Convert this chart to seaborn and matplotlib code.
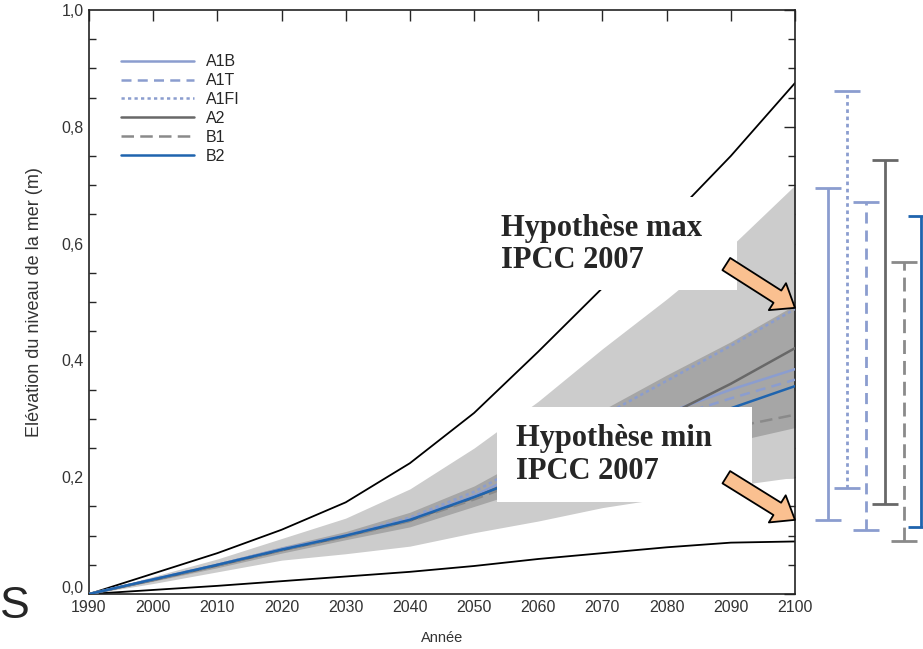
import numpy as np
import pandas as pd
import matplotlib
matplotlib.use("Agg")
import matplotlib.pyplot as plt
import seaborn as sns
from matplotlib.patches import Rectangle
from matplotlib.ticker import MultipleLocator, FuncFormatter
from matplotlib.transforms import ScaledTranslation

# --- data (sea level rise, m) ---
years = [1990, 2000, 2010, 2020, 2030, 2040, 2050, 2060, 2070, 2080, 2090, 2100]

a1b = [0.0, 0.025, 0.05, 0.077, 0.100, 0.128, 0.168, 0.222, 0.268, 0.310, 0.350, 0.385]
a1t = [0.0, 0.025, 0.05, 0.077, 0.100, 0.128, 0.168, 0.218, 0.260, 0.300, 0.335, 0.367]
a1fi = [0.0, 0.025, 0.05, 0.077, 0.101, 0.131, 0.175, 0.235, 0.305, 0.365, 0.425, 0.488]
a2 = [0.0, 0.024, 0.049, 0.075, 0.099, 0.126, 0.165, 0.212, 0.262, 0.305, 0.360, 0.421]
b1 = [0.0, 0.024, 0.049, 0.075, 0.098, 0.125, 0.162, 0.203, 0.235, 0.260, 0.285, 0.307]
b2 = [0.0, 0.025, 0.05, 0.076, 0.100, 0.127, 0.166, 0.208, 0.250, 0.285, 0.318, 0.356]

upper_env = [0.0, 0.035, 0.070, 0.110, 0.157, 0.224, 0.310, 0.415, 0.524, 0.636, 0.750, 0.875]
lower_env = [0.0, 0.007, 0.014, 0.022, 0.030, 0.038, 0.048, 0.060, 0.070, 0.080, 0.088, 0.090]

light_lo = [0.0, 0.018, 0.038, 0.058, 0.069, 0.082, 0.105, 0.125, 0.148, 0.165, 0.185, 0.200]
light_hi = [0.0, 0.030, 0.060, 0.095, 0.130, 0.180, 0.250, 0.330, 0.420, 0.505, 0.595, 0.700]
dark_lo = [0.0, 0.022, 0.045, 0.070, 0.093, 0.115, 0.150, 0.185, 0.210, 0.235, 0.260, 0.285]
dark_hi = [0.0, 0.027, 0.053, 0.081, 0.107, 0.140, 0.185, 0.245, 0.315, 0.375, 0.432, 0.495]

# ranges in 2100 shown as bars to the right of the plot
bar_names = ["A1B", "A1FI", "A1T", "A2", "B1", "B2"]
bar_low = [0.127, 0.182, 0.110, 0.154, 0.091, 0.115]
bar_high = [0.695, 0.861, 0.671, 0.744, 0.568, 0.648]

scenarios = ["A1B", "A1T", "A1FI", "A2", "B1", "B2"]
series = {"A1B": a1b, "A1T": a1t, "A1FI": a1fi, "A2": a2, "B1": b1, "B2": b2}

colors = {"A1B": "#8b9dcf", "A1T": "#8b9dcf", "A1FI": "#8b9dcf",
          "A2": "#686868", "B1": "#8a8a8a", "B2": "#1f64ae"}
dashes = {"A1B": "", "A1T": (4, 2.5), "A1FI": (1.3, 1.3),
          "A2": "", "B1": (5, 2.5), "B2": ""}

df = pd.DataFrame({
    "Année": years * len(scenarios),
    "niveau": sum([series[s] for s in scenarios], []),
    "scenario": np.repeat(scenarios, len(years)),
})

sns.set_style("white")
plt.rcParams["font.family"] = ["Liberation Sans", "DejaVu Sans"]

fig = plt.figure(figsize=(9.23, 6.49), dpi=100)
ax = fig.add_axes([0.0964, 0.0847, 0.7649, 0.8999])

# shaded envelopes
ax.fill_between(years, light_lo, light_hi, color="#cccccc", lw=0, zorder=1)
ax.fill_between(years, dark_lo, dark_hi, color="#a6a6a6", lw=0, zorder=1.5)

# outer black envelope lines
sns.lineplot(x=years, y=upper_env, color="black", lw=1.3, ax=ax, zorder=2)
sns.lineplot(x=years, y=lower_env, color="black", lw=1.3, ax=ax, zorder=2)

sns.lineplot(data=df, x="Année", y="niveau", hue="scenario", style="scenario",
             hue_order=scenarios, style_order=scenarios,
             palette=colors, dashes=dashes, lw=1.8, ax=ax, zorder=3)

old = ax.get_legend()
handles = old.legend_handles
labels = [t.get_text() for t in old.get_texts()]
for h in handles:
    h.set_linewidth(1.8)
ax.legend(handles, labels, loc="upper left", bbox_to_anchor=(0.045, 0.924),
          frameon=False, fontsize=11.5, handlelength=4.6, handletextpad=0.75,
          labelspacing=0.24, borderpad=0, borderaxespad=0)

# range bars outside the axes
bar_x = [2105.1, 2108.1, 2111.1, 2114.0, 2117.0, 2119.6]
bar_styles = {"A1B": "-", "A1FI": (0, (1.3, 1.3)), "A1T": (0, (4, 2.5)),
              "A2": "-", "B1": (0, (5, 2.5)), "B2": "-"}
for name, x, lo, hi in zip(bar_names, bar_x, bar_low, bar_high):
    mid = (lo + hi) / 2
    line, caps, bars = ax.errorbar([x], [mid], yerr=[[mid - lo], [hi - mid]],
                                   fmt="none", ecolor=colors[name], elinewidth=2,
                                   capsize=9.5, capthick=2, clip_on=False)
    bars[0].set_linestyle(bar_styles[name])
    bars[0].set_clip_on(False)
    for c in caps:
        c.set_clip_on(False)

# annotation boxes (white panels pasted over the chart)
ax.add_patch(Rectangle((2051.2, 0.521), 39.8, 0.158, fc="white", ec="none", zorder=4))
ax.add_patch(Rectangle((2053.6, 0.158), 39.7, 0.162, fc="white", ec="none", zorder=4))

txt_font = ["Liberation Serif", "DejaVu Serif"]
ax.text(2054.2, 0.598, "Hypothèse max\nIPCC 2007", fontsize=22, fontweight="bold",
        family=txt_font, va="center", ha="left", zorder=5, linespacing=1.15)
ax.text(2056.6, 0.238, "Hypothèse min\nIPCC 2007", fontsize=22, fontweight="bold",
        family=txt_font, va="center", ha="left", zorder=5, linespacing=1.15)

arrow = dict(arrowstyle="simple,head_width=1.15,head_length=0.75,tail_width=0.52",
             fc="#fac090", ec="black", lw=1.3, mutation_scale=20,
             shrinkA=0, shrinkB=0)
ax.annotate("", xy=(2100, 0.490), xytext=(2089.3, 0.565), arrowprops=arrow,
            annotation_clip=False, zorder=6)
ax.annotate("", xy=(2100, 0.127), xytext=(2089.3, 0.200), arrowprops=arrow,
            annotation_clip=False, zorder=6)

# axes styling
ax.set_xlim(1990, 2100)
ax.set_ylim(0, 1.0)
ax.xaxis.set_major_locator(MultipleLocator(10))
ax.yaxis.set_major_locator(MultipleLocator(0.2))
ax.yaxis.set_minor_locator(MultipleLocator(0.05))
ax.yaxis.set_major_formatter(FuncFormatter(lambda v, p: f"{v:.1f}".replace(".", ",")))
ax.tick_params(which="major", direction="in", top=True, right=True, length=8,
               width=1, labelsize=11.5, labelcolor="#333333", pad=4)
ax.tick_params(which="minor", direction="in", left=True, right=True, length=5, width=1)
for s in ax.spines.values():
    s.set_color("#222222")
    s.set_linewidth(1.2)

ax.set_xlabel("Année", fontsize=10.5, color="#333333", labelpad=12)
ax.set_ylabel("Elévation du niveau de la mer (m)", fontsize=13, color="#333333",
              labelpad=13)

fig.text(0.0, 1 - 606 / 649, "S", fontsize=32, va="center", ha="left")

# lift the "0,0" label a little, as in the original figure
fig.canvas.draw()
for tick in ax.yaxis.get_major_ticks():
    if abs(tick.get_loc()) < 1e-9:
        tick.label1.set_transform(tick.label1.get_transform()
                                  + ScaledTranslation(0, 5 / 72, fig.dpi_scale_trans))

fig.savefig("out.png", dpi=100)
